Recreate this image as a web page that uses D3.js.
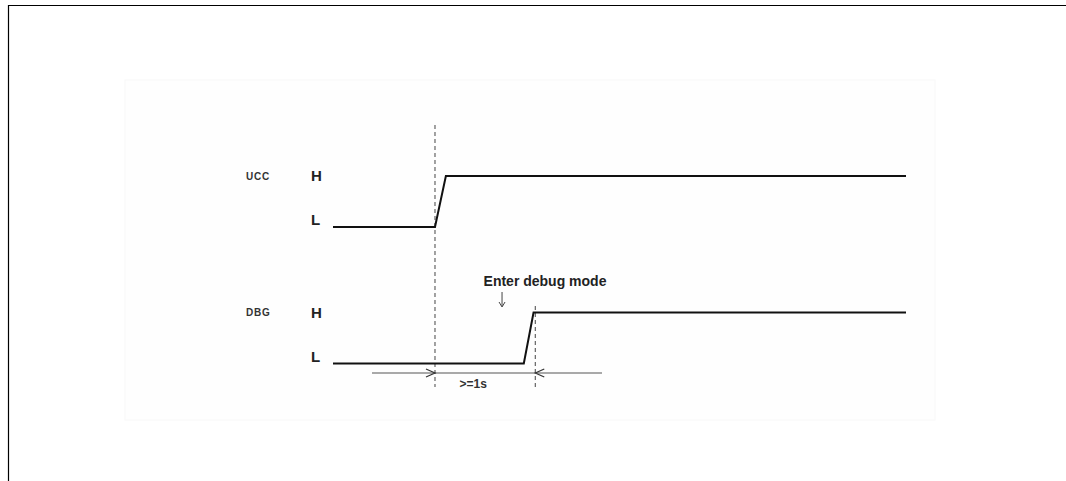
<!DOCTYPE html>
<html><head><meta charset="utf-8">
<script src="https://cdn.jsdelivr.net/npm/d3@7"></script>
<style>body{margin:0;background:#fff}svg{display:block}</style>
</head><body><svg id="c" width="1066" height="481"></svg>
<script>
// Signals (time in arbitrary units, level 0 = L, 1 = H)
const signals = ["UCC", "DBG"];
const levelLabels = ["L", "H"];
const uccTimes = [0, 17.8, 19.7, 100];
const uccLevels = [0, 0, 1, 1];
const dbgTimes = [0, 33.3, 35.0, 100];
const dbgLevels = [0, 0, 1, 1];
const markerTimes = [17.8, 35.3];       // dashed reference lines
const spanLabel = ">=1s";
const eventLabel = "Enter debug mode";
const eventTime = 29.5;

const svg = d3.select("#c");
const x = d3.scaleLinear().domain([0, 100]).range([333, 906]);
const lvl = d3.scaleLinear().domain([0, 1]).range([227, 176]);
const rowOffset = {UCC: 0, DBG: 136.5};
const yOf = (s, v) => lvl(v) + rowOffset[s];

// frame
svg.append("line").attr("x1", 8).attr("x2", 1066).attr("y1", 5.5).attr("y2", 5.5).attr("stroke", "#000").attr("stroke-width", 1.2);
svg.append("line").attr("x1", 8.5).attr("x2", 8.5).attr("y1", 5).attr("y2", 481).attr("stroke", "#000").attr("stroke-width", 1.2);
// faint picture area
svg.append("rect").attr("x", 125).attr("y", 80).attr("width", 810).attr("height", 340).attr("fill", "#fefefe").attr("stroke", "#f8f8f8");

// dashed markers
svg.append("line").attr("x1", x(markerTimes[0])).attr("x2", x(markerTimes[0])).attr("y1", 125).attr("y2", 387)
  .attr("stroke", "#444").attr("stroke-width", 1).attr("stroke-dasharray", "4,3");
svg.append("line").attr("x1", x(markerTimes[1])).attr("x2", x(markerTimes[1])).attr("y1", 306).attr("y2", 387)
  .attr("stroke", "#444").attr("stroke-width", 1).attr("stroke-dasharray", "4,3");

const line = s => d3.line().x(d => x(d[0])).y(d => yOf(s, d[1]));
const data = {UCC: d3.zip(uccTimes, uccLevels), DBG: d3.zip(dbgTimes, dbgLevels)};
signals.forEach(s => {
  svg.append("path").attr("d", line(s)(data[s])).attr("fill", "none").attr("stroke", "#111").attr("stroke-width", 2);
  svg.append("text").attr("x", 246).attr("y", yOf(s, 1)).attr("dy", "0.35em").text(s)
    .attr("font-family", "Liberation Sans, Arial").attr("font-weight", "bold").attr("font-size", 10)
    .attr("letter-spacing", 0.8).attr("fill", "#333");
  levelLabels.forEach((lab, i) => {
    svg.append("text").attr("x", 311).attr("y", yOf(s, i) - (i === 0 ? 7 : 0)).attr("dy", "0.35em").text(lab)
      .attr("font-family", "Liberation Sans, Arial").attr("font-weight", "bold").attr("font-size", 15).attr("fill", "#222");
  });
});

// span arrow line
const ay = 373;
svg.append("line").attr("x1", 372).attr("x2", 602).attr("y1", ay).attr("y2", ay).attr("stroke", "#555").attr("stroke-width", 1);
const x0 = x(markerTimes[0]), x1 = x(markerTimes[1]);
svg.append("path").attr("d", `M${x0-9},${ay-4}L${x0},${ay}L${x0-9},${ay+4}`).attr("fill", "none").attr("stroke", "#333").attr("stroke-width", 1.2);
svg.append("path").attr("d", `M${x1+9},${ay-4}L${x1},${ay}L${x1+9},${ay+4}`).attr("fill", "none").attr("stroke", "#333").attr("stroke-width", 1.2);
svg.append("text").attr("x", (x0 + x1) / 2 - 12).attr("y", 388).text(spanLabel)
  .attr("font-family", "Liberation Sans, Arial").attr("font-weight", "bold").attr("font-size", 12).attr("fill", "#333").attr("text-anchor", "middle");

// event label + arrow
svg.append("text").attr("x", 545).attr("y", 286).text(eventLabel).attr("text-anchor", "middle")
  .attr("font-family", "Liberation Sans, Arial").attr("font-weight", "bold").attr("font-size", 14).attr("fill", "#222");
const ex = x(eventTime);
svg.append("line").attr("x1", ex).attr("x2", ex).attr("y1", 292).attr("y2", 306).attr("stroke", "#444").attr("stroke-width", 1);
svg.append("path").attr("d", `M${ex-3},${302}L${ex},${307}L${ex+3},${302}`).attr("fill", "none").attr("stroke", "#444").attr("stroke-width", 1);
</script></body></html>
